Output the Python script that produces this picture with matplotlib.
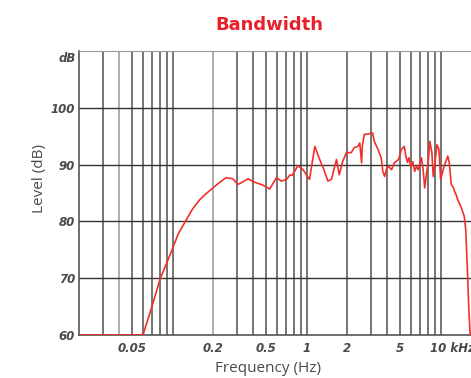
import matplotlib.pyplot as plt
import matplotlib.transforms as mtransforms

RED, GRID, TXT = "#f0312a", "#5e5e5e", "#4a4a4a"

# frequency response, kHz / dB
freq = [0.02, 0.058, 0.0604, 0.065, 0.07, 0.075, 0.081, 0.09, 0.099, 0.11, 0.1265,
        0.14, 0.159, 0.18, 0.2, 0.225, 0.251, 0.281,
        0.307, 0.33, 0.365, 0.409, 0.47, 0.53, 0.595, 0.647, 0.71, 0.75, 0.78, 0.86, 0.94,
        1.05, 1.15, 1.25, 1.33, 1.44, 1.53, 1.67, 1.75, 1.86, 1.98, 2.15, 2.27,
        2.41, 2.49, 2.57, 2.6, 2.69, 3.05, 3.1, 3.2, 3.4, 3.6, 3.7, 3.82, 3.95, 4.07,
        4.3, 4.5, 4.85, 5.1, 5.35, 5.5, 5.65, 5.8, 6.0, 6.2, 6.4, 6.6, 6.8, 7.0, 7.2,
        7.4, 7.6, 8.1, 8.3, 8.6, 8.8, 9.4, 9.7, 10.0, 10.6, 11.3, 11.6, 12.0, 12.4,
        12.7, 13.1, 13.4, 13.9, 14.3, 15.0, 15.4, 15.8, 16.2, 16.6]
level = [60, 60, 60.2, 62.6, 65, 67.4, 70, 72.6, 75, 77.8, 80.3,
         82.1, 83.8, 85.0, 85.9, 86.9, 87.7, 87.5,
         86.5, 86.9, 87.5, 86.9, 86.4, 85.7, 87.7, 87.1, 87.4, 88.2, 88.1, 89.8, 89.1,
         87.4, 93.2, 90.9, 89.4, 87.1, 87.4, 90.9, 88.2, 90.6, 92.1, 92.1, 93.0,
         93.2, 93.8, 90.3, 93.2, 95.3, 95.5, 95.6, 94.1, 92.7, 91.2, 88.8, 87.9, 89.3, 89.7,
         89.1, 90.3, 90.9, 92.7, 93.2, 91.5, 90.4, 91.2, 89.6, 90.5, 88.8, 89.7, 89.1, 90.2, 91.2,
         89.1, 85.9, 90.9, 94.1, 92.1, 87.9, 93.5, 92.7, 87.4, 89.7, 91.5, 90.3, 86.5, 86.0,
         85.3, 84.6, 83.8, 83.0, 82.3, 80.9, 78.5, 72, 65, 60]

grid_x = [0.03, 0.04, 0.05, 0.06, 0.07, 0.08, 0.09, 0.1, 0.2, 0.3, 0.4, 0.5,
          0.6, 0.7, 0.8, 0.9, 1, 2, 3, 4, 5, 6, 7, 8, 9, 10]
label_x = {0.05: "0.05", 0.2: "0.2", 0.5: "0.5", 1: "1", 2: "2", 5: "5", 10: "10 kHz"}
yticks = [60, 70, 80, 90, 100]

fig = plt.figure(figsize=(4.71, 3.78), dpi=100)
ax = fig.add_axes([79/471, 1-335/378, 402/471, 284/378])
ax.set_xscale("log")
ax.set_xlim(0.02, 20)
ax.set_ylim(60, 110)

for g in grid_x:
    ax.axvline(g, color="#a0a0a0" if g in (0.04, 0.2) else GRID, lw=1.2, zorder=1)
for y in yticks[1:]:
    ax.axhline(y, color="#333333", lw=1.0, zorder=1)

ax.plot(freq, level, color=RED, lw=1.2, zorder=3)

ax.set_xticks(grid_x)
ax.set_xticklabels([label_x.get(g, "") for g in grid_x])
ax.xaxis.set_minor_locator(plt.NullLocator())
ax.set_yticks(yticks)
ax.tick_params(axis="both", length=0, labelsize=8.5, labelcolor=TXT)
ax.tick_params(axis="x", pad=5)
ax.tick_params(axis="y", pad=3)
for t in ax.get_xticklabels() + ax.get_yticklabels():
    t.set_fontstyle("italic"); t.set_fontweight("bold")
last = ax.get_xticklabels()[-1]
last.set_horizontalalignment("left")
last.set_transform(last.get_transform() + mtransforms.ScaledTranslation(-11/100, 0, fig.dpi_scale_trans))

ax.text(-0.008, 108.6, "dB", transform=ax.get_yaxis_transform(), ha="right", va="center",
        fontsize=8.5, style="italic", weight="bold", color=TXT)

for s in ("left", "bottom"):
    ax.spines[s].set_color("#555555"); ax.spines[s].set_linewidth(1.2)
ax.spines["top"].set_color("#9a9a9a"); ax.spines["right"].set_visible(False)

fig.text(269/471, 1-25/378, "Bandwidth", color="#e8202a", fontsize=13,
         fontweight="bold", ha="center", va="center")
fig.text(268/471, 1-368/378, "Frequency (Hz)", color=TXT, fontsize=11,
         family="Open Sans", ha="center", va="center")
fig.text(39/471, 1-179/378, "Level (dB)", color=TXT, fontsize=11,
         family="Open Sans", rotation=90, ha="center", va="center")

fig.savefig("out.png", dpi=100)
